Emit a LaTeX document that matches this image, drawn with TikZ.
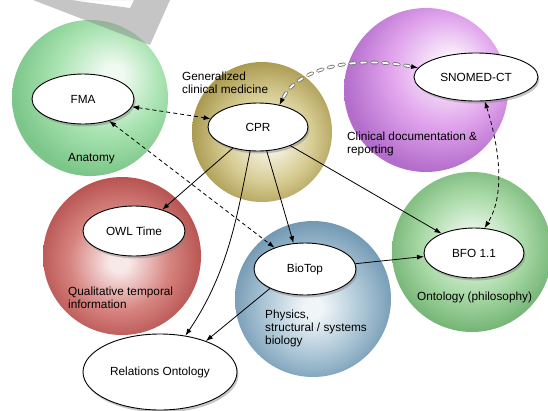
\documentclass[tikz,border=0pt]{standalone}
\usepackage{fontspec}
\setmainfont{Liberation Sans}
\usetikzlibrary{shapes.geometric,shadows,arrows.meta}

\definecolor{gAh}{HTML}{F0FAF1}\definecolor{gAm}{HTML}{A9E3B1}\definecolor{gAe}{HTML}{7CC689}
\definecolor{goh}{HTML}{F7F4E6}\definecolor{gom}{HTML}{D6CB92}\definecolor{goe}{HTML}{AA9A50}
\definecolor{puh}{HTML}{FBF2FC}\definecolor{pum}{HTML}{E0A2EC}\definecolor{pue}{HTML}{B36DCB}
\definecolor{reh}{HTML}{F8E9E9}\definecolor{rem}{HTML}{D6837F}\definecolor{ree}{HTML}{B5504E}
\definecolor{blh}{HTML}{F0F5F8}\definecolor{blm}{HTML}{AAC5D5}\definecolor{ble}{HTML}{7097B2}
\definecolor{gBh}{HTML}{EEF8EE}\definecolor{gBm}{HTML}{A8D9A6}\definecolor{gBe}{HTML}{73B373}

\pgfdeclareradialshading{sphGreenA}{\pgfpoint{8bp}{8bp}}{color(0bp)=(gAh); color(3bp)=(gAh); color(17bp)=(gAm); color(29bp)=(gAe); color(60bp)=(gAe)}
\pgfdeclareradialshading{sphGold}{\pgfpoint{3bp}{-3bp}}{color(0bp)=(goh); color(3bp)=(goh); color(16bp)=(gom); color(27bp)=(goe); color(60bp)=(goe)}
\pgfdeclareradialshading{sphPurple}{\pgfpoint{8bp}{8bp}}{color(0bp)=(puh); color(3bp)=(puh); color(17bp)=(pum); color(29bp)=(pue); color(60bp)=(pue)}
\pgfdeclareradialshading{sphRed}{\pgfpoint{-1bp}{-2bp}}{color(0bp)=(reh); color(3bp)=(reh); color(16bp)=(rem); color(27bp)=(ree); color(60bp)=(ree)}
\pgfdeclareradialshading{sphBlue}{\pgfpoint{0bp}{-3bp}}{color(0bp)=(blh); color(3bp)=(blh); color(16bp)=(blm); color(27bp)=(ble); color(60bp)=(ble)}
\pgfdeclareradialshading{sphGreenB}{\pgfpoint{0bp}{3bp}}{color(0bp)=(gBh); color(3bp)=(gBh); color(16bp)=(gBm); color(27bp)=(gBe); color(60bp)=(gBe)}

\begin{document}
\begin{tikzpicture}[x=1pt,y=-1pt,
  font=\fontsize{11.8}{13}\selectfont,
  onto/.style={ellipse, draw, line width=0.9pt, fill=white, inner sep=0pt,
    drop shadow={shadow xshift=1.5pt, shadow yshift=-2.5pt, opacity=0.45}},
  lbl/.style={anchor=north west, inner sep=0pt, align=left},
  arr/.style={-{Latex[length=7pt,width=5pt]}, line width=0.8pt},
  darr/.style={{Latex[length=7pt,width=5pt]}-{Latex[length=7pt,width=5pt]}, dash pattern=on 4pt off 3pt, line width=0.8pt},
  hollow/.style={dash pattern=on 5pt off 6pt, line cap=round}]
\useasboundingbox (0,0) rectangle (548,410);

% spheres
\shade[shading=sphGreenA] (90,98) circle[radius=78];
\shade[shading=sphGold] (262,132) circle[radius=70];
\shade[shading=sphPurple] (426,90) circle[radius=82];
\shade[shading=sphRed] (122,256) circle[radius=79];
\shade[shading=sphBlue] (313,299) circle[radius=78];
\shade[shading=sphGreenB] (472,252) circle[radius=80];

% region labels
\node[lbl] (genlbl) at (182,72) {Generalized\\clinical medicine};
\node[lbl] (anat) at (68,153) {Anatomy};
\node[lbl] (clin) at (347,132) {Clinical documentation \&\\reporting};
\node[lbl] (qual) at (68,287) {Qualitative temporal\\information};
\node[lbl] (phys) at (265,310) {Physics,\\structural / systems\\biology};
\node[lbl] (ontph) at (417,292) {Ontology (philosophy)};

% ontologies
\node[onto, minimum width=102pt, minimum height=50pt] (fma) at (83,99) {FMA};
\node[onto, minimum width=100pt, minimum height=48pt] (cpr) at (258,127) {CPR};
\node[onto, minimum width=124pt, minimum height=48pt] (snomed) at (476,77) {SNOMED-CT};
\node[onto, minimum width=102pt, minimum height=50pt] (owl) at (134,231) {OWL Time};
\node[onto, minimum width=102pt, minimum height=52pt] (biotop) at (305,269) {BioTop};
\node[onto, minimum width=100pt, minimum height=50pt] (bfo) at (474,253) {BFO 1.1};
\node[onto, minimum width=154pt, minimum height=76pt] (ro) at (160,372) {Relations Ontology};

% dashed links
\draw[darr] (fma.-9) -- (cpr.170);
\draw[darr] (fma.-40) -- (biotop.145);
\draw[darr] (snomed.-70) .. controls (500,150) and (505,195) .. (bfo.67);

% hollow dashed link CPR <-> SNOMED-CT
\draw[{Latex[length=7pt,width=5pt]}-{Latex[length=7pt,width=5pt]}, line width=0.8pt, dash pattern=on 0pt off 500pt]
  (cpr.46) .. controls (298,70) and (350,55) .. (snomed.171);
\draw[hollow, line width=3.6pt, black!55, shorten <=9pt, shorten >=9pt]
  (cpr.46) .. controls (298,70) and (350,55) .. (snomed.171);
\draw[hollow, line width=1.8pt, white, shorten <=9pt, shorten >=9pt]
  (cpr.46) .. controls (298,70) and (350,55) .. (snomed.171);

% solid links
\draw[arr] (cpr.-140) -- (owl.37);
\draw[arr] (cpr.-108) .. controls (238,210) and (230,270) .. (ro.55);
\draw[arr] (cpr.-70) -- (biotop.114);
\draw[arr] (cpr.-30) -- (bfo.149);
\draw[arr] (biotop.6) -- (bfo.-176);
\draw[arr] (biotop.-151) -- (ro.34);

% watermark
\fill[black!45, opacity=0.5, even odd rule] (33,0) -- (150,45) -- (170,0) -- cycle (70,0) -- (130,8) -- (134,0) -- cycle;
\end{tikzpicture}
\end{document}
